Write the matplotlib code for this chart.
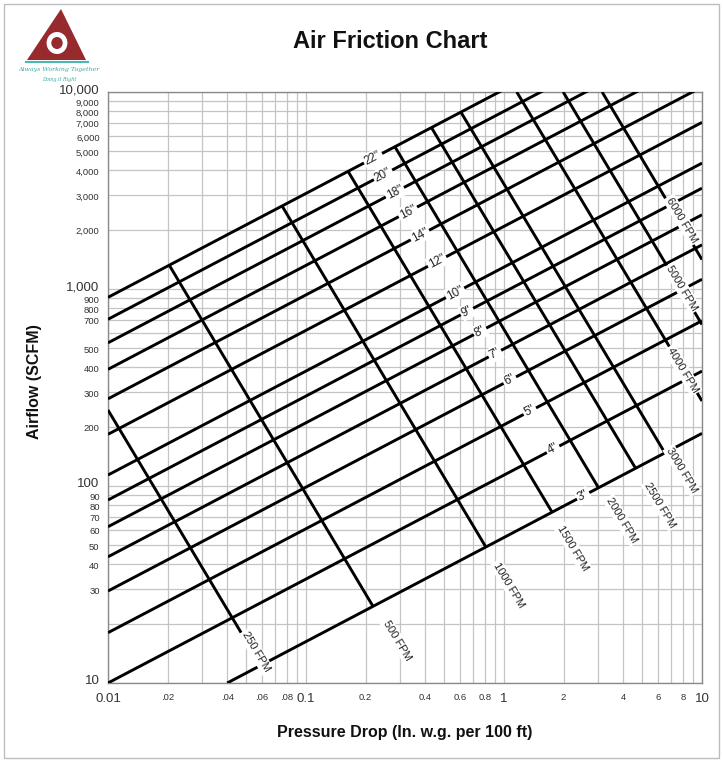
import numpy as np
import matplotlib
matplotlib.use("Agg")
import matplotlib.pyplot as plt
import matplotlib.transforms as mtransforms
from matplotlib.patches import Polygon, Circle, Rectangle
from matplotlib.lines import Line2D

plt.rcParams['font.family'] = ['Liberation Sans', 'DejaVu Sans']

# ---------------- data ----------------
# Duct diameter lines: (start pressure drop, start airflow, end pressure drop, end airflow)
diam_labels = ['3"', '4"', '5"', '6"', '7"', '8"', '9"', '10"', '12"', '14"', '16"', '18"', '20"', '22"']
diam_dp_start = [0.04, 0.01, 0.01, 0.01, 0.01, 0.01, 0.01, 0.01, 0.01, 0.01, 0.01, 0.01, 0.01, 0.01]
diam_q_start = [10, 10, 18.0, 29.3, 43.7, 62.1, 84.9, 113.7, 183, 277, 391, 533, 702, 907]
diam_dp_end = [10, 10, 10, 10, 10, 10, 10, 10, 10, 10, 10, 10, 10, 10]
diam_q_end = [185, 383, 690, 1120, 1675, 2380, 3250, 4355, 7010, 10610, 14975, 20400, 26900, 34700]

# Velocity lines
vel_labels = ['250 FPM', '500 FPM', '1000 FPM', '1500 FPM', '2000 FPM', '2500 FPM',
              '3000 FPM', '4000 FPM', '5000 FPM', '6000 FPM']
vel_dp_start = [0.01, 0.0204, 0.0757, 0.163, 0.281, 0.43, 0.605, 1.16, 1.99, 3.13]
vel_q_start = [243, 1320, 2640, 3960, 5280, 6600, 7920, 10000, 10000, 10000]
vel_dp_end = [0.059, 0.218, 0.81, 1.75, 3.0, 4.62, 6.5, 10, 10, 10]
vel_q_end = [12.3, 24.5, 49, 73.6, 98, 123, 147, 270, 660, 1410]

x_ticks = [0.01, 0.02, 0.04, 0.06, 0.08, 0.1, 0.2, 0.4, 0.6, 0.8, 1, 2, 4, 6, 8, 10]
x_ticklabels = ['0.01', '.02', '.04', '.06', '.08', '0.1', '0.2', '0.4', '0.6', '0.8',
                '1', '2', '4', '6', '8', '10']
y_ticks = [10, 30, 40, 50, 60, 70, 80, 90, 100, 200, 300, 400, 500, 700, 800, 900,
           1000, 2000, 3000, 4000, 5000, 6000, 7000, 8000, 9000, 10000]
y_ticklabels = ['10', '30', '40', '50', '60', '70', '80', '90', '100', '200', '300', '400',
                '500', '700', '800', '900', '1,000', '2,000', '3,000', '4,000', '5,000',
                '6,000', '7,000', '8,000', '9,000', '10,000']

# ---------------- layout (label placement) ----------------
diam_label_dp = [2.51, 1.77, 1.35, 1.07, 0.90, 0.757, 0.65, 0.566, 0.459, 0.376, 0.327, 0.281, 0.245, 0.218]
vel_label_pos = [(0.0559, 14.4), (0.288, 16.5), (1.06, 31.4), (2.23, 48.4), (3.94, 67),
                 (6.14, 80), (7.93, 120), (8.0, 388), (7.93, 1012), (7.93, 2240)]

W, H = 723, 762
fig = plt.figure(figsize=(W / 100, H / 100), dpi=100)
ax = fig.add_axes([108 / W, 1 - 683 / H, (702 - 108) / W, (683 - 92) / H])
ax.set_xscale('log')
ax.set_yscale('log')
ax.set_xlim(0.01, 10)
ax.set_ylim(10, 10000)

# grid
ax.grid(True, which='both', color='#c4c4c4', linewidth=0.9, zorder=0)
ax.set_axisbelow(True)
for s in ax.spines.values():
    s.set_color('#8a8a8a')
    s.set_linewidth(1.0)

lw = 2.1
for i in range(len(diam_labels)):
    ax.plot([diam_dp_start[i], diam_dp_end[i]], [diam_q_start[i], diam_q_end[i]],
            color='black', lw=lw, solid_capstyle='butt', zorder=3)
for i in range(len(vel_labels)):
    ax.plot([vel_dp_start[i], vel_dp_end[i]], [vel_q_start[i], vel_q_end[i]],
            color='black', lw=lw, solid_capstyle='butt', zorder=3)

# diameter labels
for i, lab in enumerate(diam_labels):
    x0 = diam_label_dp[i]
    lx0, lx1 = np.log10(diam_dp_start[i]), np.log10(diam_dp_end[i])
    ly0, ly1 = np.log10(diam_q_start[i]), np.log10(diam_q_end[i])
    ly = ly0 + (np.log10(x0) - lx0) * (ly1 - ly0) / (lx1 - lx0)
    ax.text(x0, 10 ** ly, lab, rotation=28, rotation_mode='anchor', ha='center', va='center',
            fontsize=8.5, color='#222222', zorder=5,
            bbox=dict(facecolor='white', edgecolor='none', pad=1.2))

for i, lab in enumerate(vel_labels):
    x0, y0 = vel_label_pos[i]
    ax.text(x0, y0, lab, rotation=-59, rotation_mode='anchor', ha='center', va='center',
            fontsize=8, color='#222222', zorder=5,
            bbox=dict(facecolor='white', edgecolor='none', pad=1.2))

ax.set_xticks(x_ticks)
ax.set_xticklabels(x_ticklabels)
ax.set_yticks(y_ticks)
ax.set_yticklabels(y_ticklabels)
ax.minorticks_on()
ax.xaxis.set_minor_formatter(matplotlib.ticker.NullFormatter())
ax.yaxis.set_minor_formatter(matplotlib.ticker.NullFormatter())
ax.tick_params(which='both', length=0)
ax.tick_params(axis='x', pad=7)
ax.tick_params(axis='y', pad=6)
big_x = {'0.01', '0.1', '1', '10'}
big_y = {'10', '100', '1,000', '10,000'}
for t in ax.get_xticklabels():
    t.set_color('#333333')
    t.set_fontsize(9.5 if t.get_text() in big_x else 6.8)
up = mtransforms.ScaledTranslation(0, 2.5 / 72, fig.dpi_scale_trans)
down = mtransforms.ScaledTranslation(0, -0.8 / 72, fig.dpi_scale_trans)
for t in ax.get_yticklabels():
    t.set_color('#333333')
    if t.get_text() in big_y:
        t.set_fontsize(9.5)
        t.set_transform(t.get_transform() + up)
    else:
        t.set_fontsize(6.8)
        t.set_transform(t.get_transform() + down)

# titles
fig.text(390 / W, 1 - 42 / H, 'Air Friction Chart', ha='center', va='center',
         fontsize=17, fontweight='bold', color='#111111')
fig.text(405 / W, 1 - 733 / H, 'Pressure Drop (In. w.g. per 100 ft)', ha='center', va='center',
         fontsize=11.5, fontweight='bold', color='#111111')
fig.text(35 / W, 1 - 382 / H, 'Airflow (SCFM)', ha='center', va='center', rotation=90,
         fontsize=11.5, fontweight='bold', color='#111111')

# logo
def fp(x, y):
    return (x / W, 1 - y / H)

tri = Polygon([fp(61, 9), fp(27, 60), fp(86, 60)], closed=True, facecolor='#962a2d',
              edgecolor='none', transform=fig.transFigure)
fig.add_artist(tri)
fig.add_artist(Circle(fp(57, 43), 11 / H, facecolor='white', edgecolor='none',
                      transform=fig.transFigure))
fig.add_artist(Circle(fp(57, 43), 6 / H, facecolor='#962a2d', edgecolor='none',
                      transform=fig.transFigure))
fig.add_artist(Line2D([26 / W, 88 / W], [1 - 62 / H, 1 - 62 / H], color='#49b8b0', lw=1.5,
                      transform=fig.transFigure))
fig.text(59 / W, 1 - 70 / H, 'Always Working Together', ha='center', va='center', fontsize=4.5,
         color='#3aa8a0', style='italic', family='DejaVu Serif')
fig.text(59 / W, 1 - 79 / H, 'Doing it Right', ha='center', va='center', fontsize=3.5,
         color='#3aa8a0', style='italic', family='DejaVu Serif')

# outer border
fig.add_artist(Rectangle((4 / W, 4 / H), (W - 8) / W, (H - 8) / H, fill=False,
                         edgecolor='#bdbdbd', lw=1.0, transform=fig.transFigure))

fig.savefig('out.png', dpi=100)
